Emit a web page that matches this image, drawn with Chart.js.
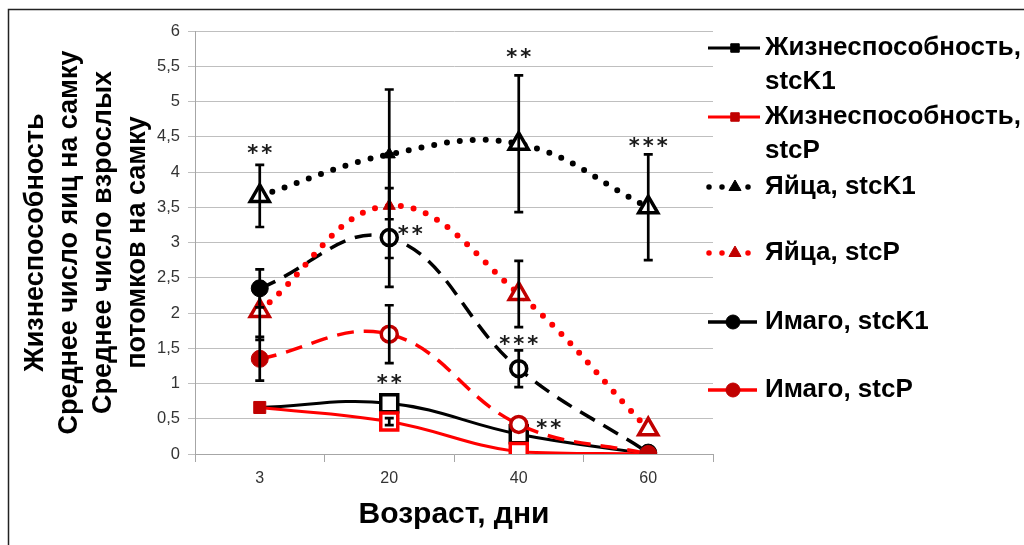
<!DOCTYPE html>
<html>
<head>
<meta charset="utf-8">
<script src="https://cdn.jsdelivr.net/npm/chart.js@4.4.1/dist/chart.umd.min.js"></script>
<style>
  html, body { margin: 0; padding: 0; background: #fff; }
  #wrap { width: 1024px; height: 545px; position: relative; }
</style>
</head>
<body>
<div id="wrap"><canvas id="myChart"></canvas></div>
<script>
// ages (days)
var ages = ['3', '20', '40', '60'];
var yTickLabels = ['0', '0,5', '1', '1,5', '2', '2,5', '3', '3,5', '4', '4,5', '5', '5,5', '6'];

// viability
var vitK1 = [0.66, 0.72, 0.28, 0];
var vitK1Err = [0, 0, 0, 0];
var vitP = [0.66, 0.46, 0.03, 0];
var vitPErr = [0, 0.05, 0, 0];

// eggs per female
var eggsK1 = [3.66, 4.25, 4.40, 3.50];
var eggsK1Err = [0.44, 0.92, 0.97, 0.75];
var eggsP = [2.03, 3.52, 2.27, 0.35];
var eggsPErr = [0.41, 0.74, 0.47, 0];

// adult offspring per female
var imagoK1 = [2.35, 3.07, 1.21, 0.02];
var imagoK1Err = [0.27, 0.70, 0.26, 0];
var imagoP = [1.35, 1.70, 0.42, 0];
var imagoPErr = [0.31, 0.41, 0, 0];

var seriesNames = [
    'Жизнеспособность,\nstcK1',
    'Жизнеспособность,\nstcP',
    'Яйца, stcK1',
    'Яйца, stcP',
    'Имаго, stcK1',
    'Имаго, stcP'
];

var RED = '#ff0000';
var DARKRED = '#c00000';

function markers(colors, hollow, rBig, rSmall){
    return {
        pointBackgroundColor: hollow.map(function(h, i){ return h ? '#fff' : colors[i]; }),
        pointBorderColor: colors,
        pointBorderWidth: hollow.map(function(h){ return h ? 3.5 : 1; }),
        pointRadius: hollow.map(function(h){ return h ? rBig : rSmall; }),
        pointHoverRadius: hollow.map(function(h){ return h ? rBig : rSmall; })
    };
}

function series(name, data, err, color, kind, mColors, hollow, rBig, rSmall, order){
    var ds = {
        label: name,
        data: data,
        errors: err,
        kind: kind,
        borderColor: color,
        tension: 0.4,
        fill: false,
        order: order,
        pointStyle: kind == 'vit' ? 'rect' : (kind == 'eggs' ? 'triangle' : 'circle')
    };
    if(kind == 'vit'){
        ds.borderWidth = 3;
    }else if(kind == 'eggs'){
        ds.borderWidth = 6;
        ds.borderDash = [0, 13];
        ds.borderCapStyle = 'round';
    }else{
        ds.borderWidth = 3.5;
        ds.borderDash = [17, 10];
    }
    return Object.assign(ds, markers(mColors, hollow, rBig, rSmall));
}

var datasets = [
    series(seriesNames[0], vitK1, vitK1Err, '#000', 'vit', ['#000','#000','#000','#000'], [false, true, true, false], 12, 6, 5),
    series(seriesNames[1], vitP, vitPErr, RED, 'vit', [DARKRED, RED, RED, DARKRED], [false, true, true, false], 12, 8.5, 1),
    series(seriesNames[2], eggsK1, eggsK1Err, '#000', 'eggs', ['#000','#000','#000','#000'], [true, false, true, true], 11, 7, 4),
    series(seriesNames[3], eggsP, eggsPErr, RED, 'eggs', [DARKRED, DARKRED, DARKRED, DARKRED], [true, false, true, true], 11, 7, 2),
    series(seriesNames[4], imagoK1, imagoK1Err, '#000', 'imago', ['#000','#000','#000','#000'], [false, true, true, false], 8, 8.5, 3),
    series(seriesNames[5], imagoP, imagoPErr, RED, 'imago', [DARKRED, DARKRED, DARKRED, DARKRED], [false, true, true, false], 8, 8.5, 0)
];

// significance marks: category index, value, pixel shift to the right
var stars = [
    { i: 0, v: 4.31, dx: 0, t: '**' },
    { i: 2, v: 5.66, dx: 0, t: '**' },
    { i: 3, v: 4.41, dx: 0, t: '***' },
    { i: 1, v: 3.15, dx: 21, t: '**' },
    { i: 2, v: 1.60, dx: 0, t: '***' },
    { i: 1, v: 1.04, dx: 0, t: '**' },
    { i: 2, v: 0.41, dx: 30, t: '**' }
];

var errorBars = {
    id: 'errorBars',
    afterDatasetsDraw: function(chart){
        var ctx = chart.ctx;
        var y = chart.scales.y;
        chart.data.datasets.forEach(function(ds, k){
            var meta = chart.getDatasetMeta(k);
            meta.data.forEach(function(pt, j){
                var e = ds.errors[j];
                if(!e) return;
                var top = y.getPixelForValue(ds.data[j] + e);
                var bot = y.getPixelForValue(ds.data[j] - e);
                ctx.save();
                ctx.strokeStyle = '#000';
                ctx.lineWidth = 2.7;
                ctx.beginPath();
                ctx.moveTo(pt.x, top); ctx.lineTo(pt.x, bot);
                ctx.moveTo(pt.x - 4.5, top); ctx.lineTo(pt.x + 4.5, top);
                ctx.moveTo(pt.x - 4.5, bot); ctx.lineTo(pt.x + 4.5, bot);
                ctx.stroke();
                ctx.restore();
            });
        });
        // stars
        ctx.save();
        ctx.fillStyle = '#1a1a1a';
        ctx.font = 'bold 21px "DejaVu Sans"';
        ctx.textAlign = 'center';
        ctx.textBaseline = 'middle';
        ctx.letterSpacing = '3px';
        stars.forEach(function(s){
            var x = chart.scales.x.getPixelForValue(s.i) + s.dx;
            ctx.fillText(s.t, x + 1.5, y.getPixelForValue(s.v) + 4);
        });
        ctx.restore();
    }
};

var legendAndFrame = {
    id: 'legendAndFrame',
    afterDraw: function(chart){
        var ctx = chart.ctx;
        var rows = [48, 117, 187, 253, 322, 390];
        ctx.save();
        chart.data.datasets.forEach(function(ds, k){
            var yy = rows[k];
            ctx.save();
            ctx.strokeStyle = ds.borderColor;
            ctx.beginPath();
            if(ds.kind == 'vit'){
                ctx.lineWidth = 3;
                ctx.moveTo(708, yy); ctx.lineTo(760, yy);
            }else if(ds.kind == 'eggs'){
                ctx.lineWidth = 5.5;
                ctx.lineCap = 'round';
                ctx.setLineDash([0, 13]);
                ctx.moveTo(709, yy); ctx.lineTo(750, yy);
            }else{
                ctx.lineWidth = 3.5;
                ctx.moveTo(708, yy); ctx.lineTo(757, yy);
            }
            ctx.stroke();
            ctx.restore();
            var mc = ds.borderColor == RED ? DARKRED : '#000';
            ctx.fillStyle = mc;
            ctx.strokeStyle = mc;
            Chart.helpers.drawPoint(ctx, {
                pointStyle: ds.pointStyle,
                radius: ds.kind == 'vit' ? 6 : 7,
                borderWidth: 1
            }, ds.kind == 'imago' ? 733 : 735, yy);
            ctx.fillStyle = '#000';
            ctx.font = 'bold 26px "Liberation Sans"';
            ctx.textBaseline = 'middle';
            ds.label.split('\n').forEach(function(line, n){
                ctx.fillText(line, 765, yy + n * 34);
            });
        });
        // outer frame (top and left edges)
        ctx.strokeStyle = '#222';
        ctx.lineWidth = 1.5;
        ctx.beginPath();
        ctx.moveTo(1024, 9.5); ctx.lineTo(8.5, 9.5); ctx.lineTo(8.5, 545);
        ctx.stroke();
        ctx.restore();
    }
};

const ctx = document.getElementById('myChart').getContext('2d');
const myChart = new Chart(ctx, {
    type: 'line',
    data: {
        labels: ages,
        datasets: datasets
    },
    options: {
        responsive: true,
        maintainAspectRatio: false,
        animation: false,
        layout: { padding: { left: 18, top: 31, right: 311, bottom: 0 } },
        plugins: {
            legend: { display: false },
            tooltip: { enabled: false }
        },
        scales: {
            x: {
                offset: true,
                grid: { offset: true, drawOnChartArea: false, tickLength: 8, color: '#a6a6a6' },
                border: { color: '#a6a6a6' },
                ticks: { color: '#333', font: { size: 16, family: 'Liberation Sans' }, padding: 7 },
                title: {
                    display: true,
                    text: 'Возраст, дни',
                    color: '#000',
                    font: { size: 30, weight: 'bold', family: 'Liberation Sans' },
                    padding: { top: 0, bottom: 12 }
                },
                afterFit: function(scale){ scale.height = 91; }
            },
            y: {
                min: 0,
                max: 6,
                ticks: {
                    stepSize: 0.5,
                    color: '#333',
                    font: { size: 16.5, family: 'Liberation Sans' },
                    padding: 8,
                    callback: function(v, i){ return yTickLabels[i]; }
                },
                grid: { color: '#bfbfbf', tickLength: 7 },
                border: { color: '#a6a6a6' },
                title: {
                    display: true,
                    text: ['Жизнеспособность', 'Среднее число яиц на самку', 'Среднее число взрослых', 'потомков на самку'],
                    color: '#000',
                    font: { size: 27, weight: 'bold', family: 'Liberation Sans', lineHeight: 1.27 },
                    padding: 0
                },
                afterFit: function(scale){ scale.width = 177; }
            }
        }
    },
    plugins: [errorBars, legendAndFrame]
});
</script>
</body>
</html>
